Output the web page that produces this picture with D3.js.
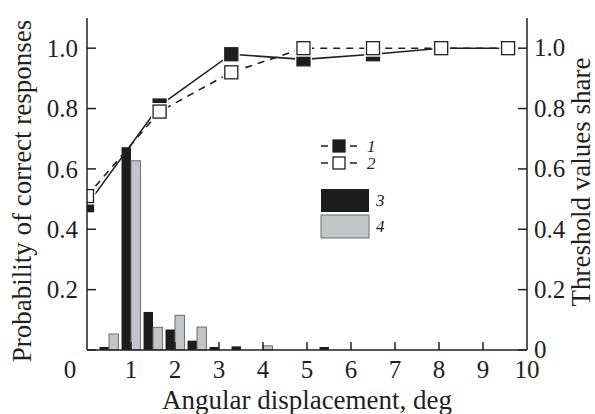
<!DOCTYPE html>
<html>
<head>
    <script src="https://d3js.org/d3.v7.min.js"></script>
    <style>
        body { margin: 0; background: #fff; }
        svg text { font-family: "Liberation Serif", "DejaVu Serif", serif; fill: #231f20; }
        .tick-label { font-size: 25px; }
        .axis-title { font-size: 27px; }
        .legend-label { font-size: 17px; font-style: italic; }
    </style>
</head>
<body>
    <script>
        // angular displacement of the line points, deg
        const lineX = [0, 1.65, 3.28, 4.92, 6.5, 8.05, 9.57];
        // 1: filled squares, solid line
        const correct1 = [0.48, 0.81, 0.98, 0.963, 0.98, 1.0, 1.0];
        // 2: open squares, dashed line
        const correct2 = [0.51, 0.79, 0.92, 1.0, 1.0, 1.0, 1.0];

        // histogram bins (centre of each pair of bars)
        const binX = [0.5, 1, 1.5, 2, 2.5, 3, 3.5, 4, 4.5, 5, 5.5];
        const share3 = [0.01, 0.672, 0.126, 0.068, 0.031, 0.01, 0.012, 0, 0, 0, 0.01];
        const share4 = [0.053, 0.627, 0.075, 0.115, 0.076, 0, 0, 0.014, 0, 0, 0];

        const xTicks = [0, 1, 2, 3, 4, 5, 6, 7, 8, 9, 10];
        const yTicks = [0, 0.2, 0.4, 0.6, 0.8, 1.0];

        const width = 595, height = 414;
        const mLeft = 87, mRight = 527, mTop = 18, mBottom = 350;
        const ink = '#231f20';

        const x = d3.scaleLinear().domain([0, 10]).range([mLeft, mRight]);
        const y = d3.scaleLinear().domain([0, 1.1]).range([mBottom, mTop]);

        const svg = d3.select('body').append('svg')
            .attr('width', width)
            .attr('height', height);

        svg.append('defs').append('clipPath').attr('id', 'plot')
            .append('rect')
            .attr('x', mLeft).attr('y', 0)
            .attr('width', mRight - mLeft).attr('height', mBottom);

        // lines
        const pts1 = lineX.map((d, i) => [d, correct1[i]]);
        const pts2 = lineX.map((d, i) => [d, correct2[i]]);
        const line = d3.line().x(d => x(d[0])).y(d => y(d[1]));

        svg.append('path').attr('d', line(pts1))
            .attr('fill', 'none').attr('stroke', ink).attr('stroke-width', 1.6);
        svg.append('path').attr('d', line(pts2))
            .attr('fill', 'none').attr('stroke', ink).attr('stroke-width', 1.6)
            .attr('stroke-dasharray', '7,6');

        // bars
        const bw = x(0.215) - x(0);
        const bars = svg.append('g');
        bars.selectAll('rect.b3').data(binX.map((d, i) => [d, share3[i]]).filter(d => d[1] > 0))
            .join('rect').attr('class', 'b3')
            .attr('x', d => x(d[0]) - bw)
            .attr('y', d => y(d[1]))
            .attr('width', bw)
            .attr('height', d => y(0) - y(d[1]))
            .attr('fill', '#1d1d1d');
        bars.selectAll('rect.b4').data(binX.map((d, i) => [d, share4[i]]).filter(d => d[1] > 0))
            .join('rect').attr('class', 'b4')
            .attr('x', d => x(d[0]))
            .attr('y', d => y(d[1]))
            .attr('width', bw)
            .attr('height', d => y(0) - y(d[1]))
            .attr('fill', '#c3c4c7')
            .attr('stroke', '#6e6e70').attr('stroke-width', 1);

        // markers
        const ms = 13;
        const marks = svg.append('g').attr('clip-path', 'url(#plot)');
        function drawMarkers(pts, fill) {
            marks.selectAll(null).data(pts).join('rect')
                .attr('x', d => x(d[0]) - ms / 2 - 2)
                .attr('y', d => y(d[1]) - ms / 2 - 2)
                .attr('width', ms + 4).attr('height', ms + 4)
                .attr('fill', '#fff');
            marks.selectAll(null).data(pts).join('rect')
                .attr('x', d => x(d[0]) - ms / 2)
                .attr('y', d => y(d[1]) - ms / 2)
                .attr('width', ms).attr('height', ms)
                .attr('fill', fill)
                .attr('stroke', ink).attr('stroke-width', 1.3);
        }
        drawMarkers(pts1, '#1d1d1d');
        drawMarkers(pts2, '#fff');

        // axes
        const axis = svg.append('g').attr('stroke', ink).attr('stroke-width', 1.5);
        axis.append('line').attr('x1', mLeft).attr('x2', mLeft).attr('y1', mTop).attr('y2', mBottom);
        axis.append('line').attr('x1', mRight).attr('x2', mRight).attr('y1', mTop).attr('y2', mBottom);
        axis.append('line').attr('x1', mLeft).attr('x2', mRight).attr('y1', mBottom).attr('y2', mBottom);

        axis.selectAll(null).data(xTicks.slice(1, -1)).join('line')
            .attr('x1', d => x(d)).attr('x2', d => x(d))
            .attr('y1', mBottom).attr('y2', mBottom - 8);
        axis.selectAll(null).data(yTicks).join('line')
            .attr('x1', mLeft).attr('x2', mLeft + 9)
            .attr('y1', d => y(d)).attr('y2', d => y(d));
        axis.selectAll(null).data(yTicks).join('line')
            .attr('x1', mRight).attr('x2', mRight - 9)
            .attr('y1', d => y(d)).attr('y2', d => y(d));

        // tick labels
        svg.selectAll(null).data(xTicks).join('text')
            .attr('class', 'tick-label')
            .attr('x', d => d === 0 ? x(d) - 17 : x(d))
            .attr('y', 378)
            .attr('text-anchor', 'middle')
            .text(d => d);
        svg.selectAll(null).data(yTicks.slice(1)).join('text')
            .attr('class', 'tick-label')
            .attr('x', mLeft - 9)
            .attr('y', d => y(d))
            .attr('dy', '0.35em')
            .attr('text-anchor', 'end')
            .text(d => d.toFixed(1));
        svg.selectAll(null).data(yTicks).join('text')
            .attr('class', 'tick-label')
            .attr('x', mRight + 7)
            .attr('y', d => y(d))
            .attr('dy', '0.33em')
            .text(d => d === 0 ? '0' : d.toFixed(1));

        // axis titles
        svg.append('text').attr('class', 'axis-title')
            .attr('x', (mLeft + mRight) / 2).attr('y', 409)
            .attr('text-anchor', 'middle')
            .text('Angular displacement, deg');
        svg.append('text').attr('class', 'axis-title')
            .attr('transform', 'translate(31,191) rotate(-90)')
            .attr('text-anchor', 'middle')
            .text('Probability of correct responses');
        svg.append('text').attr('class', 'axis-title')
            .attr('transform', 'translate(590,182) rotate(-90)')
            .attr('text-anchor', 'middle')
            .text('Threshold values share');

        // legend
        const lg = svg.append('g').attr('transform', 'translate(321,0)');
        [[146, '#1d1d1d', '1'], [163, '#fff', '2']].forEach(([cy, fill, lab]) => {
            lg.append('line').attr('x1', 0).attr('x2', 7).attr('y1', cy).attr('y2', cy)
                .attr('stroke', ink).attr('stroke-width', 1.5);
            lg.append('line').attr('x1', 29).attr('x2', 36).attr('y1', cy).attr('y2', cy)
                .attr('stroke', ink).attr('stroke-width', 1.5);
            lg.append('rect').attr('x', 12).attr('y', cy - 6).attr('width', 12).attr('height', 12)
                .attr('fill', fill).attr('stroke', ink).attr('stroke-width', 1.3);
            lg.append('text').attr('class', 'legend-label')
                .attr('x', 46).attr('y', cy + 6).text(lab);
        });
        [[189, '#1d1d1d', 'none', '3'], [215, '#c3c4c7', '#6e6e70', '4']].forEach(([ty, fill, stroke, lab]) => {
            lg.append('rect').attr('x', 0).attr('y', ty).attr('width', 48).attr('height', 23)
                .attr('fill', fill).attr('stroke', stroke).attr('stroke-width', 1);
            lg.append('text').attr('class', 'legend-label')
                .attr('x', 55).attr('y', ty + 17).text(lab);
        });
    </script>
</body>
</html>
